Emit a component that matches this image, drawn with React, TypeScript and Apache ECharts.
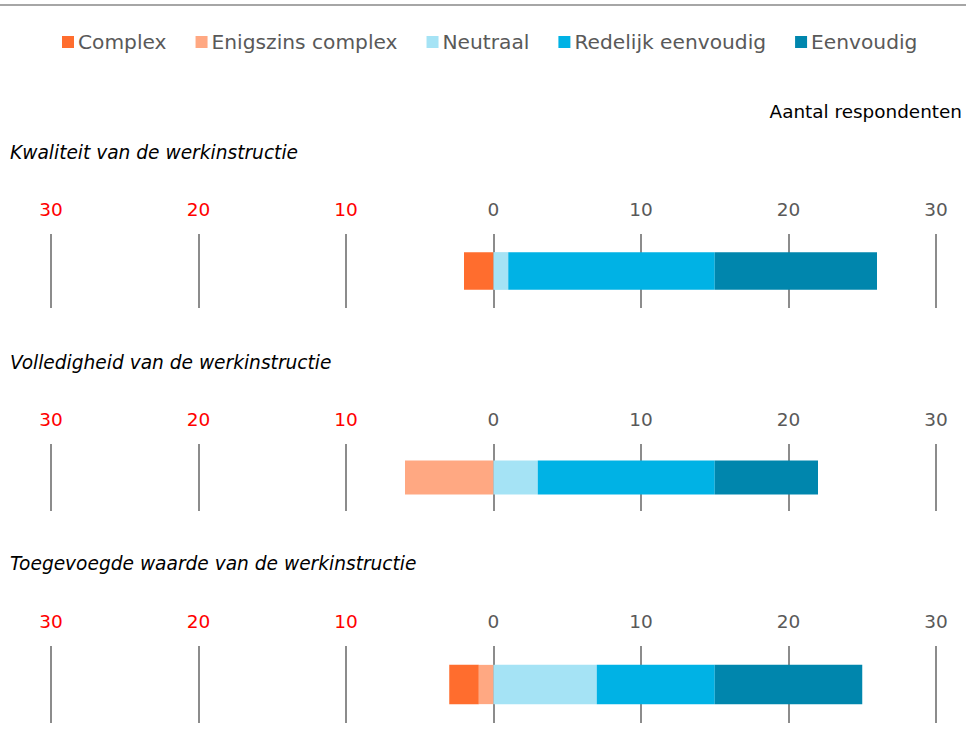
import React, { useEffect, useRef } from "react";
import * as echarts from "echarts";

const categories = [
  "Kwaliteit van de werkinstructie",
  "Volledigheid van de werkinstructie",
  "Toegevoegde waarde van de werkinstructie",
];
const seriesNames = ["Complex", "Enigszins complex", "Neutraal", "Redelijk eenvoudig", "Eenvoudig"];
const complex = [2, 0, 2];
const enigszinsComplex = [0, 6, 1];
const neutraal = [1, 3, 7];
const redelijkEenvoudig = [14, 12, 8];
const eenvoudig = [11, 7, 10];
const colors = ["#FF6D2E", "#FFA882", "#A5E3F5", "#00B2E5", "#0086AD"];

const gridTops = [234, 444, 646];
const gridHeights = [74, 67, 77];
const titleTops = [143, 353, 554];

export default function App() {
  const ref = useRef<HTMLDivElement>(null);
  useEffect(() => {
    if (!ref.current) return;
    const chart = echarts.init(ref.current, undefined, { renderer: "svg" });
    const font = "DejaVu Sans, Verdana, sans-serif";
    const grids = categories.map((_, i) => ({
      left: 51,
      right: 30,
      top: gridTops[i],
      height: gridHeights[i],
      containLabel: false,
    }));
    const xAxes = categories.map((_, i) => ({
      type: "value",
      gridIndex: i,
      position: "top",
      min: -30,
      max: 30,
      interval: 10,
      axisLine: { show: false },
      axisTick: { show: false },
      axisLabel: {
        margin: 15,
        fontSize: 18.5,
        fontFamily: font,
        formatter: (v: number) => String(Math.abs(v)),
        color: (v: any) => (Number(v) < 0 ? "#FF0000" : "#595959"),
      },
      splitLine: { show: true, lineStyle: { color: "#8C8C8C", width: 2 } },
    }));
    const yAxes = categories.map((c, i) => ({
      type: "category",
      gridIndex: i,
      data: [c],
      show: false,
    }));
    const series: any[] = [];
    categories.forEach((_, i) => {
      const defs = [
        { idx: 1, v: enigszinsComplex[i] ? -enigszinsComplex[i] : null },
        { idx: 0, v: complex[i] ? -complex[i] : null },
        { idx: 2, v: neutraal[i] || null },
        { idx: 3, v: redelijkEenvoudig[i] || null },
        { idx: 4, v: eenvoudig[i] || null },
      ];
      defs.forEach((d) => {
        series.push({
          type: "bar",
          name: seriesNames[d.idx],
          xAxisIndex: i,
          yAxisIndex: i,
          stack: "s" + i,
          barWidth: "51%",
          itemStyle: { color: colors[d.idx] },
          data: [d.v],
        });
      });
    });
    chart.setOption({
      animation: false,
      textStyle: { fontFamily: font },
      title: [
        ...categories.map((c, i) => ({
          text: c,
          left: 10,
          top: titleTops[i],
          padding: 0,
          textStyle: {
            fontSize: 18.6,
            fontStyle: "italic",
            fontWeight: "normal",
            color: "#000000",
            fontFamily: font,
          },
        })),
        {
          text: "Aantal respondenten",
          right: 4,
          top: 102,
          padding: 0,
          textStyle: { fontSize: 18.4, fontWeight: "normal", color: "#000000", fontFamily: font },
        },
      ],
      legend: {
        data: seriesNames,
        left: 62,
        top: 32,
        padding: 0,
        itemWidth: 12,
        itemHeight: 12,
        itemGap: 29,
        icon: "rect",
        textStyle: { fontSize: 20.2, color: "#595959", fontFamily: font, padding: [0, 0, 0, -1] },
      },
      graphic: [
        {
          type: "line",
          shape: { x1: 0, y1: 5, x2: 966, y2: 5 },
          style: { stroke: "#A6A6A6", lineWidth: 2 },
        },
      ],
      grid: grids,
      xAxis: xAxes,
      yAxis: yAxes,
      series,
    });
    return () => chart.dispose();
  }, []);
  return (
    <div
      ref={ref}
      style={{ position: "absolute", left: 0, top: 0, width: 966, height: 733, background: "#fff" }}
    />
  );
}
